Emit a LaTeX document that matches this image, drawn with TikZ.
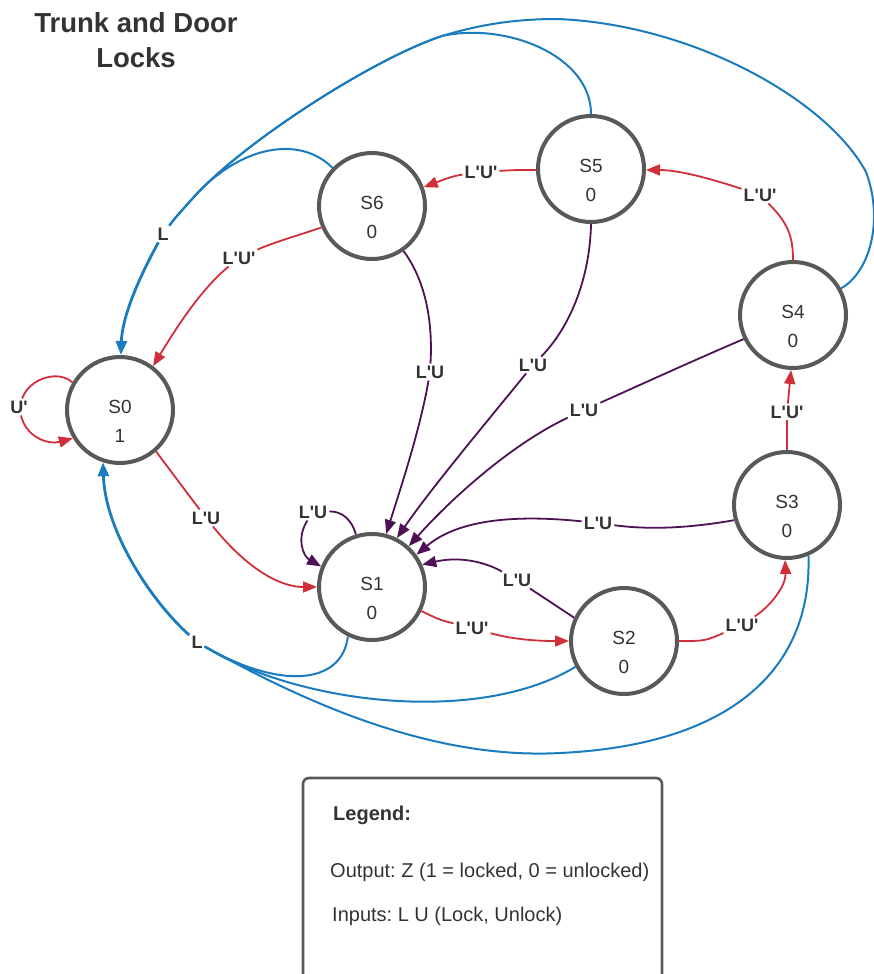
\documentclass[tikz,border=0pt]{standalone}
\usepackage{fontspec}
\setmainfont{Liberation Sans}
\usetikzlibrary{arrows.meta}
\definecolor{cred}{HTML}{D02F3A}
\definecolor{cpur}{HTML}{4E1155}
\definecolor{cblue}{HTML}{1A7BBF}
\definecolor{cgray}{HTML}{595959}
\definecolor{ctext}{HTML}{333333}
\newcommand{\tq}{\textquotesingle}
\frenchspacing
\begin{document}
\begin{tikzpicture}[x=1pt,y=-1pt,
  state/.style={circle, draw=cgray, line width=4pt, minimum size=106pt, inner sep=0pt, fill=white},
  st/.style={font=\fontsize{19}{19}\selectfont, text=ctext, inner sep=0pt},
  el/.style={font=\fontsize{18}{18}\selectfont\bfseries, text=ctext, inner sep=2pt},
  redE/.style={draw=cred, line width=1.8pt},
  purE/.style={draw=cpur, line width=1.8pt},
  bluE/.style={draw=cblue, line width=2pt},
  bluF/.style={draw=cblue, line width=2.8pt},
  arr/.style={-{Triangle[length=14pt,width=11pt]}},
  ttl/.style={font=\fontsize{27.5}{30}\selectfont\bfseries, text=ctext, inner sep=0pt, anchor=base},
  lg/.style={font=\fontsize{20}{20}\selectfont\frenchspacing, text=ctext, inner sep=0pt, anchor=base west}
]
\useasboundingbox (0,0) rectangle (874,974);

% title
\node[ttl] (t1) at (136,33) {Trunk and Door};
\node[ttl] (t2) at (136,67) {Locks};

% states
\node[state, label={[st, yshift=3pt]center:S0}, label={[st, yshift=-25.5pt]center:1}] (s0) at (120,410) {};
\node[state, label={[st, yshift=3pt]center:S1}, label={[st, yshift=-25.5pt]center:0}] (s1) at (372,587) {};
\node[state, label={[st, yshift=3pt]center:S2}, label={[st, yshift=-25.5pt]center:0}] (s2) at (624,641) {};
\node[state, label={[st, yshift=3pt]center:S3}, label={[st, yshift=-25.5pt]center:0}] (s3) at (787,505) {};
\node[state, label={[st, yshift=3pt]center:S4}, label={[st, yshift=-25.5pt]center:0}] (s4) at (793,315) {};
\node[state, label={[st, yshift=3pt]center:S5}, label={[st, yshift=-25.5pt]center:0}] (s5) at (591,169) {};
\node[state, label={[st, yshift=3pt]center:S6}, label={[st, yshift=-25.5pt]center:0}] (s6) at (372,206) {};

% edge labels
\node[el] (lU)  at (19,407) {U\tq};
\node[el] (l01) at (206,518) {L\tq U};
\node[el] (l12) at (472,628) {L\tq U\tq};
\node[el] (l23) at (742,625) {L\tq U\tq};
\node[el] (l34) at (787,412) {L\tq U\tq};
\node[el] (l45) at (760,195) {L\tq U\tq};
\node[el] (l56) at (481,172) {L\tq U\tq};
\node[el] (l60) at (239,258) {L\tq U\tq};
\node[el] (l11) at (313,512) {L\tq U};
\node[el] (l61) at (430,372) {L\tq U};
\node[el] (l51) at (533,365) {L\tq U};
\node[el] (l41) at (584,410) {L\tq U};
\node[el] (l31) at (598,523) {L\tq U};
\node[el] (l21) at (517,580) {L\tq U};
\node[el] (lLt) at (163,234) {L};
\node[el] (lLb) at (197,642) {L};

\coordinate (j5) at (442,36);
\coordinate (j6) at (193,198);

% red edges
\draw[redE] (s0.150) .. controls (60,370) and (30,377) .. (lU);
\draw[redE,arr] (lU) .. controls (26,437) and (48,445) .. (s0.211);
\draw[redE] (s0.311) -- (l01);
\draw[redE,arr] (l01) .. controls (250,572) and (282,587) .. (s1.180);
\draw[redE] (s1.334) .. controls (440,620) .. (l12);
\draw[redE,arr] (l12) .. controls (515,640) and (540,641) .. (s2.180);
\draw[redE] (s2.0) .. controls (705,641) .. (l23);
\draw[redE,arr] (l23) .. controls (772,605) and (786,585) .. (s3.268);
\draw[redE] (s3.90) -- (l34);
\draw[redE,arr] (l34) -- (s4.268);
\draw[redE] (s4.90) .. controls (793,235) and (787,222) .. (l45);
\draw[redE,arr] (l45) .. controls (715,180) and (680,170) .. (s5.359);
\draw[redE] (s5.181) .. controls (515,170) .. (l56);
\draw[redE,arr] (l56) .. controls (452,176) and (440,181) .. (s6.20);
\draw[redE] (s6.203) .. controls (290,238) and (272,243) .. (l60);
\draw[redE,arr] (l60) .. controls (200,290) and (175,330) .. (s0.53);

% purple edges
\draw[purE] (s1.107) .. controls (352,520) and (342,511) .. (l11);
\draw[purE,arr] (l11) .. controls (296,538) and (303,556) .. (s1.158);
\draw[purE] (s6.305) .. controls (425,280) and (433,320) .. (l61);
\draw[purE,arr] (l61) .. controls (420,430) and (400,490) .. (s1.75);
\draw[purE] (s5.270) .. controls (590,275) and (572,325) .. (l51);
\draw[purE,arr] (l51) .. controls (480,430) and (430,490) .. (s1.63);
\draw[purE] (s4.206) .. controls (690,362) and (640,385) .. (l41);
\draw[purE,arr] (l41) .. controls (510,445) and (450,500) .. (s1.48);
\draw[purE] (s3.196) .. controls (690,528) and (650,530) .. (l31);
\draw[purE,arr] (l31) .. controls (520,515) and (460,518) .. (s1.36);
\draw[purE] (s2.155) .. controls (555,605) .. (l21);
\draw[purE,arr] (l21) .. controls (485,562) and (460,556) .. (s1.24);

% blue edges (top, to S0)
\draw[bluE] (s4.29) .. controls (870,272) and (884,220) .. (866,172)
  .. controls (826,98) and (690,24) .. (557,19)
  .. controls (510,19) and (475,26) .. (j5)
  .. controls (370,60) and (240,145) .. (j6)
  .. controls (175,218) .. (lLt);
\draw[bluE] (s5.90) .. controls (591,55) and (505,22) .. (j5)
  .. controls (370,60) and (240,145) .. (j6)
  .. controls (175,218) .. (lLt);
\draw[bluE] (s6.136) .. controls (300,135) and (240,145) .. (j6)
  .. controls (175,218) .. (lLt);
\draw[bluF,arr] (lLt) .. controls (135,285) and (122,320) .. (s0.89);

% blue edges (bottom, to S0)
\draw[bluE] (s3.293) .. controls (812,670) and (730,745) .. (560,753)
  .. controls (430,760) and (300,700) .. (lLb);
\draw[bluE] (s2.208) .. controls (480,725) and (300,705) .. (lLb);
\draw[bluE] (s1.244) .. controls (342,685) and (280,690) .. (lLb);
\draw[bluF,arr] (lLb) .. controls (150,600) and (105,530) .. (s0.252);

% legend
\draw[draw=cgray, line width=2.6pt, rounded corners=6pt] (303,980) -- (303,778) -- (662,778) -- (662,980);
\node[lg, font=\fontsize{20}{20}\selectfont\bfseries] (lgh) at (333,820) {Legend:};
\node[lg] (lg1) at (330,877) {Output: Z (1 = locked, 0 = unlocked)};
\node[lg] (lg2) at (332,921) {Inputs: L U (Lock, Unlock)};
\end{tikzpicture}
\end{document}
